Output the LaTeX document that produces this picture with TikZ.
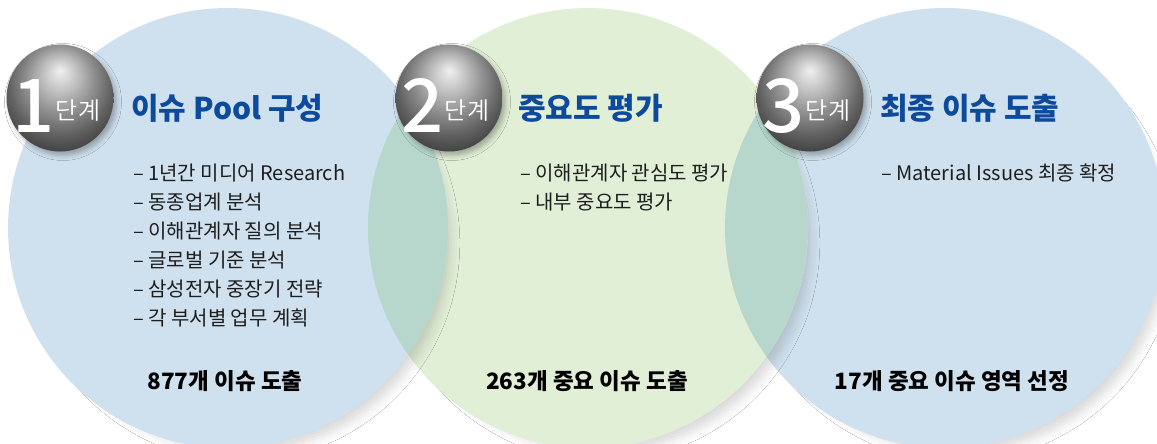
\documentclass[tikz,border=0pt]{standalone}
\usepackage{fontspec}
\setmainfont{Noto Sans CJK KR}
\IfFontExistsTF{Noto Sans CJK KR Medium}
	{\newfontfamily\stagedigit{Noto Sans CJK KR Medium}}
	{\newfontfamily\stagedigit{Noto Sans CJK KR Bold}}
\IfFontExistsTF{Noto Sans CJK KR DemiLight}
	{\newfontfamily\stagelight{Noto Sans CJK KR DemiLight}}
	{\newfontfamily\stagelight{Noto Sans CJK KR}}
\usetikzlibrary{positioning}
\usetikzlibrary{shadows.blur}

\definecolor{poolblue}{RGB}{207,225,238}
\definecolor{evalgreen}{RGB}{226,239,215}
\definecolor{overlapteal}{RGB}{183,214,204}
\definecolor{titleblue}{RGB}{14,74,156}
\definecolor{listgray}{RGB}{30,30,30}
\pgfdeclareradialshading{ballshade}{\pgfpoint{0bp}{13bp}}{color(0bp)=(black!6); color(7bp)=(black!22); color(16bp)=(black!44); color(24bp)=(black!62); color(31bp)=(black!75); color(50bp)=(black!75)}

\begin{document}
\begin{tikzpicture}[x=1pt,y=-1pt,
	stagecircle/.style={circle,inner sep=0pt,minimum size=440pt,
		blur shadow={shadow xshift=14pt,shadow yshift=-16pt,shadow scale=0.95,shadow blur radius=10pt,shadow opacity=15}},
	stageball/.style={circle,inner sep=0pt,minimum size=107pt,shading=ballshade,
		blur shadow={shadow xshift=3pt,shadow yshift=-4pt,shadow blur radius=5pt,shadow opacity=30}},
	stagenum/.style={anchor=base,inner sep=0pt,text=white,font=\stagedigit\fontsize{74}{74}\selectfont},
	stageword/.style={inner sep=0pt,text=white,font=\stagelight\fontsize{24}{24}\selectfont},
	stagetitle/.style={anchor=west,inner sep=0pt,text=titleblue,font=\bfseries\fontsize{30}{30}\selectfont},
	listitem/.style={anchor=west,inner sep=0pt,text=listgray,font=\fontsize{20}{20}\selectfont},
	result/.style={inner sep=0pt,text=black,font=\bfseries\fontsize{22.5}{22.5}\selectfont}]
	\useasboundingbox (0,0) rectangle (1157,444);
	\fill[white] (0,0) rectangle (1157,444);
	\clip (0,0) rectangle (1157,444);
	% circles, last one first
	\node[stagecircle,fill=poolblue] (finalc) at (945,228) {};
	\node[stagecircle,fill=evalgreen] (evalc) at (588,228) {};
	\node[stagecircle,fill=poolblue] (poolc) at (228,228) {};
	% overlaps
	\begin{scope}
		\clip (poolc.center) circle (220pt);
		\fill[overlapteal] (evalc.center) circle (220pt);
	\end{scope}
	\begin{scope}
		\clip (finalc.center) circle (220pt);
		\fill[overlapteal] (evalc.center) circle (220pt);
	\end{scope}
	% stage balls
	\foreach \i/\x in {1/60,2/449,3/810} {
		\node[stageball] (ball\i) at (\x,98) {};
		\node[stagenum] (num\i) at (\x-26,132) {\i};
		\node[stageword] (word\i) at (\x+18,111) {단계};
	}
	% titles
	\node[stagetitle] (title1) at (131,108) {이슈 Pool 구성};
	\node[stagetitle] (title2) at (518,108) {중요도 평가};
	\node[stagetitle] (title3) at (880,108) {최종 이슈 도출};
	% lists
	\foreach \t [count=\k] in {1년간 미디어 Research, 동종업계 분석, 이해관계자 질의 분석,
		글로벌 기준 분석, 삼성전자 중장기 전략, 각 부서별 업무 계획} {
		\node[listitem] (poolitem\k) at (133,{144+29*\k}) {– \t};
	}
	\foreach \t [count=\k] in {이해관계자 관심도 평가, 내부 중요도 평가} {
		\node[listitem] (evalitem\k) at (520,{144+29*\k}) {– \t};
	}
	\node[listitem] (finalitem1) at (881,173) {– Material Issues 최종 확정};
	% results
	\node[result] (res1) at (225,381) {877개 이슈 도출};
	\node[result] (res2) at (587,381) {263개 중요 이슈 도출};
	\node[result] (res3) at (952,381) {17개 중요 이슈 영역 선정};
\end{tikzpicture}
\end{document}
